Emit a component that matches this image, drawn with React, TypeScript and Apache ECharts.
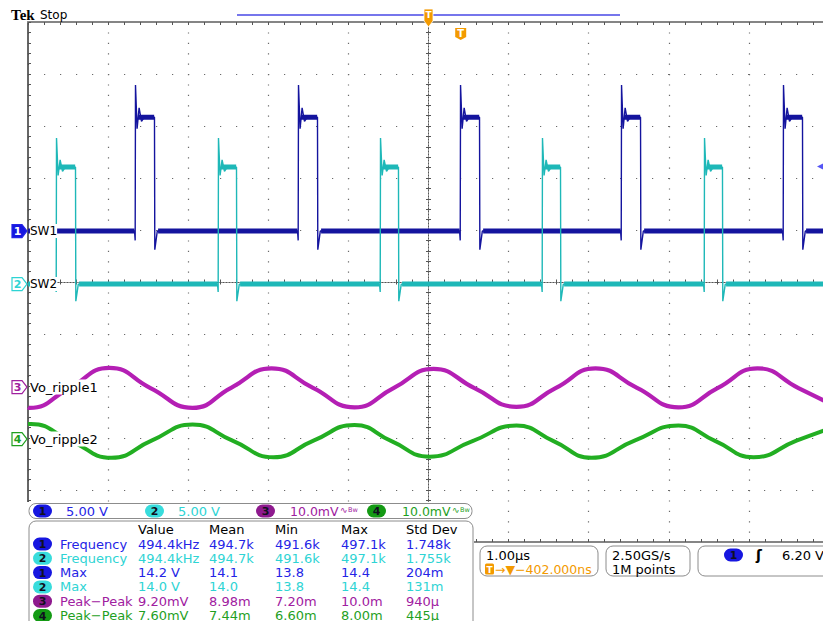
import React, { useEffect, useRef } from "react";
import * as echarts from "echarts";

// ---------- data ----------
// horizontal: 1.00 µs/div, 10 divisions; vertical: 10 divisions (values in divisions)
const timeMin = -5;
const timeMax = 5;
const divMin = -5;
const divMax = 5;

const chNames = ["SW1", "SW2", "Vo_ripple1", "Vo_ripple2"];
const chOffsets = [0.98, -0.04, -2.02, -3.02]; // ground markers (div)
const chScales = ["5.00 V", "5.00 V", "10.0mV", "10.0mV"];
const traceColors = ["#14149e", "#1eb8b8", "#b41fb4", "#22ae22"];
const textColors = ["#2424e6", "#2ed4d4", "#a0209f", "#1f9f1f"];
const ovalColors = ["#1616e0", "#38dcdc", "#8e1a8e", "#149a14"];

// SW1 switching node (µs edges, div levels)
const sw1Rise = [-3.658, -1.623, 0.4, 2.41, 4.432];
const sw1Fall = [-3.421, -1.386, 0.637, 2.647, 4.669];
// low, dip, spike, ringLow, ringHigh, plateau, undershoot
const sw1Levels = [0.98, 0.8, 3.79, 2.95, 3.35, 3.17, 0.62];

// SW2 switching node
const sw2Rise = [-4.644, -2.622, -0.599, 1.423, 3.446];
const sw2Fall = [-4.407, -2.397, -0.375, 1.648, 3.67];
const sw2Levels = [-0.04, -0.19, 2.77, 2.05, 2.35, 2.21, -0.37];

// output ripple 1: troughs, mid-slopes and peaks (µs, div)
const ripple1Time = [
  -5, -4.981, -4.482, -3.983, -3.471, -2.946, -2.459, -1.96, -1.448, -0.924, -0.437, 0.062,
  0.574, 1.099, 1.586, 2.085, 2.597, 3.121, 3.608, 4.107, 4.619, 5,
];
const ripple1 = [
  -2.41, -2.42, -2.04, -1.65, -2.04, -2.42, -2.03, -1.66, -2.03, -2.41, -2.04, -1.67, -2.04,
  -2.4, -2.04, -1.66, -2.03, -2.41, -2.04, -1.66, -2.04, -2.33,
];
// output ripple 2
const ripple2Time = [
  -5, -4.963, -4.469, -3.958, -3.458, -2.946, -2.447, -1.935, -1.436, -0.924, -0.462, 0.012,
  0.549, 1.099, 1.561, 2.035, 2.572, 3.121, 3.583, 4.057, 4.594, 5,
];
const ripple2 = [
  -2.73, -2.73, -3.05, -3.38, -3.05, -2.74, -3.05, -3.37, -3.05, -2.75, -3.06, -3.36, -3.06,
  -2.76, -3.06, -3.38, -3.05, -2.76, -3.06, -3.37, -3.05, -2.82,
];

const trigTime = 0.402; // µs
const trigVolts = 6.2;
const ch1VoltsPerDiv = 5;

const measHeaders = ["Value", "Mean", "Min", "Max", "Std Dev"];
const measChannels = [1, 2, 1, 2, 3, 4];
const measNames = ["Frequency", "Frequency", "Max", "Max", "Peak\u2212Peak", "Peak\u2212Peak"];
const measValue = ["494.4kHz", "494.4kHz", "14.2 V", "14.0 V", "9.20mV", "7.60mV"];
const measMean = ["494.7k", "494.7k", "14.1", "14.0", "8.98m", "7.44m"];
const measMin = ["491.6k", "491.6k", "13.8", "13.8", "7.20m", "6.60m"];
const measMax = ["497.1k", "497.1k", "14.4", "14.4", "10.0m", "8.00m"];
const measStd = ["1.748k", "1.755k", "204m", "131m", "940\u03bc", "445\u03bc"];

const orange = "#f39a00";
const FONT = '"DejaVu Sans"';

// ---------- builders ----------
function buildPulse(rise: number[], fall: number[], lv: number[]) {
  const [low, dip, spike, ringLow, ringHigh, plateau, under] = lv;
  const pts: any[] = [[timeMin, low]];
  rise.forEach((tr, i) => {
    const tf = fall[i];
    pts.push(
      [tr - 0.012, low],
      [tr - 0.004, dip],
      [tr, spike],
      [tr + 0.02, ringLow],
      [tr + 0.045, ringHigh],
      [tr + 0.075, plateau - 0.08],
      [tr + 0.11, plateau],
      [tf, plateau],
      [tf + 0.004, under],
      [tf + 0.035, low]
    );
  });
  pts.push([timeMax, low]);
  return pts;
}

function buildBand(rise: number[], fall: number[], lv: number[]) {
  const low = lv[0];
  const plateau = lv[5];
  const pts: any[] = [];
  let start = timeMin;
  rise.forEach((tr, i) => {
    pts.push([start, low], [tr - 0.012, low], [tr, "-"]);
    pts.push([tr + 0.03, plateau], [fall[i] - 0.004, plateau], [fall[i], "-"]);
    start = fall[i] + 0.045;
  });
  pts.push([start, low], [timeMax, low]);
  return pts;
}

function buildOption() {
  const gridDot = "#6a6a6a";
  const tickColor = "#555";
  const hidden = { show: false };
  const centerX = (inside: boolean) => ({
    type: "value",
    min: timeMin,
    max: timeMax,
    interval: 1,
    position: "bottom",
    axisLine: { show: true, onZero: true, lineStyle: { color: "#555", type: [1, 2], width: 1 } },
    axisTick: { show: true, inside, length: 2.5, lineStyle: { color: tickColor } },
    minorTick: { show: true, splitNumber: 5, length: 2.5, lineStyle: { color: tickColor } },
    axisLabel: hidden,
    splitLine: hidden,
  });
  const centerY = (inside: boolean) => ({
    type: "value",
    min: divMin,
    max: divMax,
    interval: 1,
    position: "left",
    axisLine: { show: true, onZero: true, lineStyle: { color: "#555", type: [1, 2], width: 1 } },
    axisTick: { show: true, inside, length: 2.5, lineStyle: { color: tickColor } },
    minorTick: { show: true, splitNumber: 5, length: 2.5, lineStyle: { color: tickColor } },
    axisLabel: hidden,
    splitLine: hidden,
  });
  return {
    animation: false,
    backgroundColor: "#ffffff",
    grid: { left: 28, top: 22, width: 801, height: 520, outerBoundsMode: "none", containLabel: false },
    xAxis: [
      {
        type: "value",
        min: timeMin,
        max: timeMax,
        interval: 1,
        position: "top",
        axisLine: { show: true, onZero: false, lineStyle: { color: "#858585", width: 2 } },
        axisTick: { show: true, inside: true, length: 3, lineStyle: { color: tickColor } },
        minorTick: { show: true, splitNumber: 5, length: 3, lineStyle: { color: tickColor } },
        axisLabel: hidden,
        splitLine: { show: true, lineStyle: { color: gridDot, type: [1.2, 9.2], width: 1.2 } },
      },
      centerX(true),
      centerX(false),
      {
        type: "value",
        min: timeMin,
        max: timeMax,
        interval: 1,
        position: "bottom",
        axisLine: { show: true, onZero: false, lineStyle: { color: "#858585", width: 2 } },
        axisTick: { show: true, inside: true, length: 3, lineStyle: { color: tickColor } },
        minorTick: { show: true, splitNumber: 5, length: 3, lineStyle: { color: tickColor } },
        axisLabel: hidden,
        splitLine: hidden,
      },
    ],
    yAxis: [
      {
        type: "value",
        min: divMin,
        max: divMax,
        interval: 1,
        position: "left",
        axisLine: { show: true, onZero: false, lineStyle: { color: "#333", width: 1.5 } },
        axisTick: { show: true, inside: true, length: 3, lineStyle: { color: tickColor } },
        minorTick: { show: true, splitNumber: 5, length: 3, lineStyle: { color: tickColor } },
        axisLabel: hidden,
        splitLine: { show: true, lineStyle: { color: gridDot, type: [1.2, 14.8], width: 1.2 } },
      },
      centerY(true),
      centerY(false),
    ],
    series: [
      {
        type: "line",
        name: chNames[2],
        data: ripple1Time.map((t, i) => [t, ripple1[i]]),
        symbol: "none",
        smooth: 0.5,
        lineStyle: { color: traceColors[2], width: 4.2 },
        z: 3,
      },
      {
        type: "line",
        name: chNames[3],
        data: ripple2Time.map((t, i) => [t, ripple2[i]]),
        symbol: "none",
        smooth: 0.5,
        lineStyle: { color: traceColors[3], width: 4 },
        z: 3,
      },
      {
        type: "line",
        name: "SW1 band",
        data: buildBand(sw1Rise, sw1Fall, sw1Levels),
        symbol: "none",
        connectNulls: false,
        lineStyle: { color: traceColors[0], width: 5, cap: "butt" },
        z: 4,
      },
      {
        type: "line",
        name: chNames[0],
        data: buildPulse(sw1Rise, sw1Fall, sw1Levels),
        symbol: "none",
        lineStyle: { color: traceColors[0], width: 1.4 },
        z: 4,
      },
      {
        type: "line",
        name: "SW2 band",
        data: buildBand(sw2Rise, sw2Fall, sw2Levels),
        symbol: "none",
        connectNulls: false,
        lineStyle: { color: traceColors[1], width: 5, cap: "butt" },
        z: 5,
      },
      {
        type: "line",
        name: chNames[1],
        data: buildPulse(sw2Rise, sw2Fall, sw2Levels),
        symbol: "none",
        lineStyle: { color: traceColors[1], width: 1.4 },
        z: 5,
      },
      {
        type: "scatter",
        name: "trigger level",
        data: [[4.9, chOffsets[0] + trigVolts / ch1VoltsPerDiv]],
        symbol: "triangle",
        symbolRotate: 90,
        symbolSize: [8, 8],
        itemStyle: { color: "#2a2af2" },
        z: 6,
      },
    ],
  };
}

function buildGraphics(chart: any) {
  const px = (t: number, v: number) =>
    chart.convertToPixel({ xAxisIndex: 0, yAxisIndex: 0 }, [t, v]) as number[];
  const Z = 100;
  const els: any[] = [];
  const txt = (text: string, x: number, y: number, fill: string, size = 13, extra: any = {}) => ({
    type: "text",
    z: Z + 2,
    style: {
      text,
      x,
      y,
      fill,
      font: `${size}px ${FONT}`,
      textVerticalAlign: "middle",
      verticalAlign: "middle",
      ...extra,
    },
  });
  const oval = (x: number, yc: number, ch: number) => {
    els.push({
      type: "rect",
      z: Z + 1,
      shape: { x, y: yc - 6.5, width: 19, height: 13, r: 6.5 },
      style: { fill: ovalColors[ch] },
    });
    els.push(
      txt(String(ch + 1), x + 9.5, yc + 0.5, "#101020", 11, {
        textAlign: "center",
        align: "center",
        font: `bold 11px ${FONT}`,
      })
    );
  };

  // header
  els.push({
    type: "text",
    z: Z,
    style: {
      text: "Tek",
      x: 11,
      y: 15,
      fill: "#000",
      font: 'bold 15px "Liberation Serif"',
      textVerticalAlign: "middle",
      verticalAlign: "middle",
    },
  });
  els.push(txt("Stop", 40, 15, "#000", 12));
  els.push({
    type: "line",
    z: Z,
    shape: { x1: 237, y1: 15, x2: 620, y2: 15 },
    style: { stroke: "#7676ec", lineWidth: 2 },
  });

  // expansion point marker (time 0) and trigger marker
  const [cx] = px(0, 0);
  els.push({
    type: "polygon",
    z: Z + 1,
    shape: { points: [[cx - 4.5, 9], [cx + 4.5, 9], [cx + 4.5, 21], [cx, 27], [cx - 4.5, 21]] },
    style: { fill: orange, stroke: "#fff", lineWidth: 0.8 },
  });
  els.push(txt("T", cx, 15, "#fff", 9, { textAlign: "center", align: "center", font: `bold 9px ${FONT}` }));
  const [tx] = px(trigTime, 0);
  els.push({
    type: "polygon",
    z: Z + 1,
    shape: { points: [[tx - 5.5, 28], [tx + 5.5, 28], [tx + 5.5, 37], [tx, 40], [tx - 5.5, 37]] },
    style: { fill: orange },
  });
  els.push(txt("T", tx, 33.5, "#fff", 10, { textAlign: "center", align: "center", font: `bold 10px ${FONT}` }));

  // channel ground markers + labels
  chOffsets.forEach((v, i) => {
    const [, y] = px(timeMin, v);
    const filled = i === 0;
    els.push({
      type: "polygon",
      z: Z + 1,
      shape: { points: [[12, y - 6.5], [22, y - 6.5], [27, y], [22, y + 6.5], [12, y + 6.5]] },
      style: { fill: filled ? ovalColors[0] : "#fff", stroke: textColors[i], lineWidth: 1.2 },
    });
    els.push(
      txt(String(i + 1), 17.5, y + 0.5, filled ? "#fff" : textColors[i], 11, {
        textAlign: "center",
        align: "center",
        font: `bold 11px ${FONT}`,
      })
    );
    els.push(
      txt(chNames[i], 30, y, "#000", i < 2 ? 12 : 13, {
        backgroundColor: "#fff",
        padding: [1, 0, 1, 0],
      })
    );
  });

  // white cover for readout area
  els.push({
    type: "rect",
    z: Z,
    shape: { x: 0, y: 502, width: 474, height: 130 },
    style: { fill: "#fff" },
  });

  // channel scale bar
  els.push({
    type: "rect",
    z: Z,
    shape: { x: 29, y: 503.5, width: 443, height: 15, r: 7 },
    style: { fill: "#fff", stroke: "#8c8c8c", lineWidth: 1 },
  });
  const barOval = [33, 145, 256, 367];
  const barText = [66, 178, 290, 402];
  chScales.forEach((s, i) => {
    oval(barOval[i], 511, i);
    els.push(txt(s, barText[i], 511, textColors[i], i >= 2 ? 12.5 : 13));
    if (i >= 2) {
      els.push(txt("\u223f", barText[i] + 50, 510, textColors[i], 9));
      els.push(txt("Bw", barText[i] + 58, 510, textColors[i], 6.5));
    }
  });

  // measurement table
  els.push({
    type: "rect",
    z: Z,
    shape: { x: 29, y: 521, width: 444, height: 120, r: 7 },
    style: { fill: "#fff", stroke: "#8c8c8c", lineWidth: 1 },
  });
  const colX = [138, 209, 275, 341, 406];
  measHeaders.forEach((h, j) => els.push(txt(h, colX[j], 529, "#000", 13)));
  const cols = [measValue, measMean, measMin, measMax, measStd];
  measNames.forEach((n, i) => {
    const y = 544 + i * 14.3;
    const ch = measChannels[i] - 1;
    oval(33, y, ch);
    els.push(txt(n, 60, y, textColors[ch], 13));
    cols.forEach((col, j) => els.push(txt(col[i], colX[j], y, textColors[ch], 13)));
  });

  // timebase / acquisition / trigger boxes
  const box = (x: number, w: number) =>
    els.push({
      type: "rect",
      z: Z,
      shape: { x, y: 546, width: w, height: 30, r: 7 },
      style: { fill: "#fff", stroke: "#8c8c8c", lineWidth: 1 },
    });
  box(480, 118);
  box(606, 84);
  box(698, 140);
  els.push(txt("1.00\u00b5s", 486, 555, "#000", 13));
  els.push({
    type: "rect",
    z: Z + 1,
    shape: { x: 485, y: 563.5, width: 9, height: 11, r: 1.5 },
    style: { fill: orange },
  });
  els.push(txt("T", 489.5, 569.5, "#fff", 9, { textAlign: "center", align: "center", font: `bold 9px ${FONT}` }));
  els.push(txt("\u2192\u25bc\u2212402.000ns", 495, 569, orange, 12.5));
  els.push(txt("2.50GS/s", 612, 555, "#000", 13));
  els.push(txt("1M points", 612, 569, "#000", 13));
  els.push({
    type: "rect",
    z: Z + 1,
    shape: { x: 724, y: 548.5, width: 19, height: 13, r: 6.5 },
    style: { fill: ovalColors[0] },
  });
  els.push(txt("1", 733.5, 555.5, "#101020", 11, { textAlign: "center", align: "center", font: `bold 11px ${FONT}` }));
  els.push(txt("\u0283", 756, 555, "#000", 14, { font: `bold 14px ${FONT}` }));
  els.push(txt(`${trigVolts.toFixed(2)} V`, 782, 555, "#000", 13));

  return els;
}

export default function App() {
  const ref = useRef<HTMLDivElement>(null);
  useEffect(() => {
    const el = ref.current;
    if (!el) return;
    const chart = echarts.init(el, null, { renderer: "svg" });
    chart.setOption(buildOption() as any);
    chart.setOption({ graphic: buildGraphics(chart) } as any);
    return () => chart.dispose();
  }, []);
  return (
    <div
      ref={ref}
      style={{ position: "fixed", left: 0, top: 0, width: 823, height: 621, background: "#fff" }}
    />
  );
}
